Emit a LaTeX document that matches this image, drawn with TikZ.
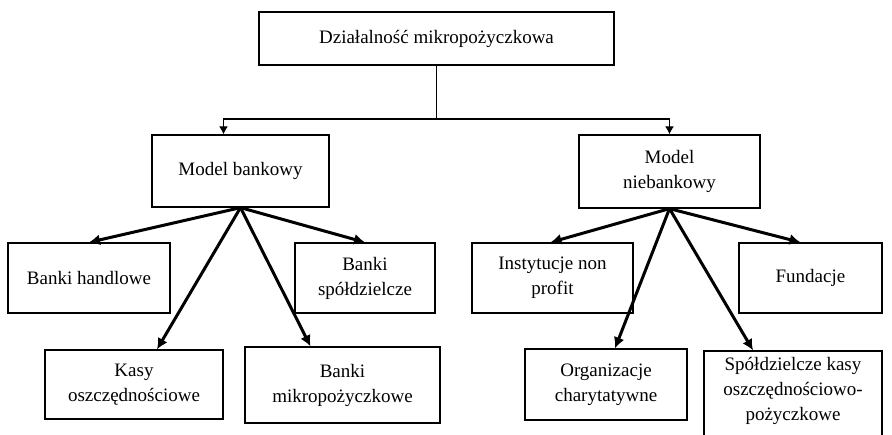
\documentclass[tikz,border=0pt]{standalone}
\usepackage{fontspec}
\setmainfont{Liberation Serif}
\usetikzlibrary{arrows.meta}

\begin{document}
\begin{tikzpicture}[x=1pt,y=-1pt,
box/.style={%
draw,
line width=1.3pt,
align=center,
font=\fontsize{19}{25}\selectfont,
minimum height=70pt,
inner sep=2pt,
},
link/.style={%
-{Latex[length=8pt,width=9pt]},
line width=1.3pt,
},
branch/.style={%
-{Latex[length=11pt,width=11pt]},
line width=3pt,
},
]
\useasboundingbox (0,0) rectangle (892,435);
\clip (0,0) rectangle (892,435);
%% Root
\node[box,minimum width=355pt,minimum height=53pt]at(436.5,38.5)(root){Działalność mikropożyczkowa};
%% Models
\node[box,minimum width=177pt,minimum height=72pt]at(240.5,171)(bank){Model bankowy};
\node[box,minimum width=181pt,minimum height=73pt]at(669.5,171.5)(nbank){Model\\niebankowy};
\coordinate (split) at (436.5,119);
\draw[line width=1.3pt] (root.south)--(split);
\draw[link] (split)-|([xshift=-17pt]bank.north);
\draw[link] (split)-|(nbank.north);
%% Bank side
\node[box,minimum width=162pt]at(89,278)(handl){Banki handlowe};
\node[box,minimum width=140pt]at(365,278)(spold){Banki\\spółdzielcze};
\node[box,minimum width=178pt,minimum height=69pt]at(134,384.5)(kasy){Kasy\\oszczędnościowe};
\node[box,minimum width=195pt,minimum height=76pt]at(342.5,385)(mikro){Banki\\mikropożyczkowe};
\draw[branch] (bank.south)--(handl.north);
\draw[branch] (bank.south)--(spold.north);
\draw[branch] (bank.south)--([xshift=23pt]kasy.north);
\draw[branch] (bank.south)--([xshift=-32pt]mikro.north);
%% Non-bank side
\node[box,minimum width=161pt]at(552.5,278)(inst){Instytucje non\\profit};
\node[box,minimum width=143pt]at(810.5,278)(fund){Fundacje};
\node[box,minimum width=162pt,minimum height=71pt]at(606,384.5)(org){Organizacje\\charytatywne};
\node[box,minimum width=178pt,minimum height=100pt,text depth=24pt]at(793,401)(skok){Spółdzielcze kasy\\oszczędnościowo-\\pożyczkowe};
\draw[branch] (nbank.south)--([xshift=-2pt]inst.north);
\draw[branch] (nbank.south)--([xshift=-10pt]fund.north);
\draw[branch] (nbank.south)--([xshift=9pt]org.north);
\draw[branch] (nbank.south)--([xshift=-40pt]skok.north);
\end{tikzpicture}
\end{document}
